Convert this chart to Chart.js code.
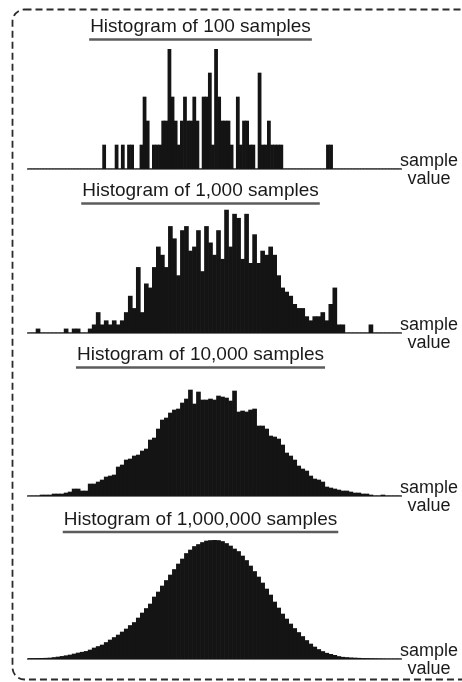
<!DOCTYPE html>
<html>
<head>
<meta charset="utf-8">
<title>Histograms of samples</title>
<script src="https://cdn.jsdelivr.net/npm/chart.js@4.4.1/dist/chart.umd.min.js"></script>
<style>
  body { margin: 0; background: #fff; }
  #page { position: relative; width: 462px; height: 682px; overflow: hidden; }
  #frame { position: absolute; left: 0; top: 0; }
  #page canvas { position: absolute; left: 0; }
</style>
</head>
<body>
<div id="page">
  <svg id="frame" width="462" height="682">
    <rect x="12.5" y="9.5" width="480" height="670" rx="12" fill="none" stroke="#2b2b2b" stroke-width="1.8" stroke-dasharray="7 4"/>
  </svg>
</div>
<script>
const titles = [
  'Histogram of 100 samples',
  'Histogram of 1,000 samples',
  'Histogram of 10,000 samples',
  'Histogram of 1,000,000 samples'
];
const axisLabel = ['sample', 'value'];

// 100 samples, counts per bin (120 narrow bins)
const counts100 = [
  0,0,0,0,0,0,0,0,0,0, 0,0,0,0,0,0,0,0,0,0,
  0,0,0,0,1,0,0,0,1,0, 1,0,1,1,0,0,1,3,2,0,
  1,1,1,2,2,5,3,2,1,2, 3,2,2,3,2,0,3,3,4,1,
  5,3,2,2,2,1,0,3,1,2, 2,1,1,0,4,1,1,2,1,1,
  1,1,0,0,0,0,0,0,0,0, 0,0,0,0,0,0,1,1,0,0,
  0,0,0,0,0,0,0,0,0,0, 0,0,0,0,0,0,0,0,0,0
];

// 1,000 samples, counts per bin (93 bins)
const counts1k = [
  0,0,1,0,0,0,0,0,0,1, 0,1,1,0,0,1,2,5,2,3,
  2,3,2,3,5,9,6,16,5,12, 11,16,21,19,16,26,23,14,25,26,
  20,21,25,15,26,22,19,25,18,30, 21,29,28,18,29,17,24,17,20,19,
  21,19,14,11,10,9,7,6,6,4, 3,4,4,5,3,7,11,2,2,0,
  0,0,0,0,0,2,0,0,0,0, 0,0,0
];

// 10,000 samples, relative bin heights (93 bins)
const counts10k = [
  0,0,0,1,1,1,2,2,2,3, 4,7,7,5,5,12,12,14,16,19,
  20,21,29,31,36,37,40,41,45,47, 56,58,67,76,78,83,86,87,93,97,
  106,92,104,96,96,97,96,100,99,98, 95,105,84,85,84,86,87,70,70,67,
  60,59,57,51,43,40,36,30,27,25, 20,17,16,14,9,8,7,6,5,5,
  4,3,3,2,2,1,0,0,1,0, 0,0,0
];

// 1,000,000 samples, relative bin heights (93 bins)
const counts1m = [
  0.5,0.5,0.6,0.7,0.8,1,1.5,2,2.6,3.3, 4,5,6,6.8,7.6,9,11,12.5,14,16.5,
  19,21.5,24,27,30,33.5,36.5,41,46,50.5, 55,62,67,73,78.5,84,89.5,95,100,105.5,
  109,112.5,114.5,116.5,118,118.5,118.7,118.5,117.5,115.5, 113,110,107.5,103,98.5,93,87.5,82,76,70,
  64,57,51,45,40,35,30.5,26.5,22.5,18.5, 15,12,9.5,7.5,5.8,4.7,3.7,2.5,1.8,1.5,
  1.2,1,0.8,0.6,0.5,0.4,0.3,0.2,0.1,0, 0,0,0
];

const family = '"Liberation Sans", Arial, Helvetica, sans-serif';

const panels = [
  { data: counts100, title: titles[0], top: 0,   height: 189, yMax: 5,    padTop: 15.6, padBottom: 10.6 },
  { data: counts1k,  title: titles[1], top: 172, height: 181, yMax: 30.5, padTop: 7.6,  padBottom: 5.6 },
  { data: counts10k, title: titles[2], top: 336, height: 180, yMax: 108,  padTop: 7.6,  padBottom: 21.6 },
  { data: counts1m,  title: titles[3], top: 500, height: 179, yMax: 121,  padTop: 8.1,  padBottom: 7.1 }
];

// underline under the title and the "sample value" label at the axis end
const panelMarks = {
  id: 'panelMarks',
  afterDraw(chart) {
    const {ctx, chartArea, titleBlock} = chart;
    const t = chart.options.plugins.title;
    const size = t.font.size;
    ctx.save();
    ctx.font = size + 'px ' + family;
    const w = ctx.measureText(t.text).width;
    const cx = (titleBlock.left + titleBlock.right) / 2;
    const y = titleBlock.top + t.padding.top + size * 1.2 / 2 + 12.5;
    ctx.strokeStyle = '#5c5c5c';
    ctx.lineWidth = 2.5;
    ctx.beginPath();
    ctx.moveTo(cx - w / 2 - 1, y);
    ctx.lineTo(cx + w / 2 + 1, y);
    ctx.stroke();

    ctx.fillStyle = '#1a1a1a';
    ctx.font = '18px ' + family;
    ctx.textAlign = 'center';
    ctx.textBaseline = 'alphabetic';
    ctx.fillText(axisLabel[0], chartArea.right + 28, chartArea.bottom - 3);
    ctx.fillText(axisLabel[1], chartArea.right + 28, chartArea.bottom + 14.5);
    ctx.restore();
  }
};

const page = document.getElementById('page');

panels.forEach(p => {
  const canvas = document.createElement('canvas');
  canvas.width = 462;
  canvas.height = p.height;
  canvas.style.top = p.top + 'px';
  page.appendChild(canvas);

  new Chart(canvas, {
    type: 'bar',
    data: {
      labels: p.data.map((_, i) => i + 1),
      datasets: [{
        data: p.data,
        backgroundColor: '#141414',
        borderWidth: 0,
        barPercentage: 1,
        categoryPercentage: 1
      }]
    },
    options: {
      responsive: false,
      devicePixelRatio: 1,
      animation: false,
      events: [],
      layout: { padding: { left: 0, right: 61, top: 0, bottom: 20 } },
      plugins: {
        legend: { display: false },
        tooltip: { enabled: false },
        title: {
          display: true,
          text: p.title,
          color: '#1a1a1a',
          font: { family: family, size: 19, weight: 'normal', lineHeight: 1.2 },
          padding: { top: p.padTop, bottom: p.padBottom }
        }
      },
      scales: {
        x: {
          type: 'category',
          ticks: { display: false },
          grid: { display: false, drawTicks: false },
          border: { display: true, color: '#747474', width: 2 }
        },
        y: {
          min: 0,
          max: p.yMax,
          ticks: { display: false },
          grid: { display: false, drawTicks: false },
          border: { display: false },
          afterFit(scale) { scale.width = 28; }
        }
      }
    },
    plugins: [panelMarks]
  });
});
</script>
</body>
</html>
